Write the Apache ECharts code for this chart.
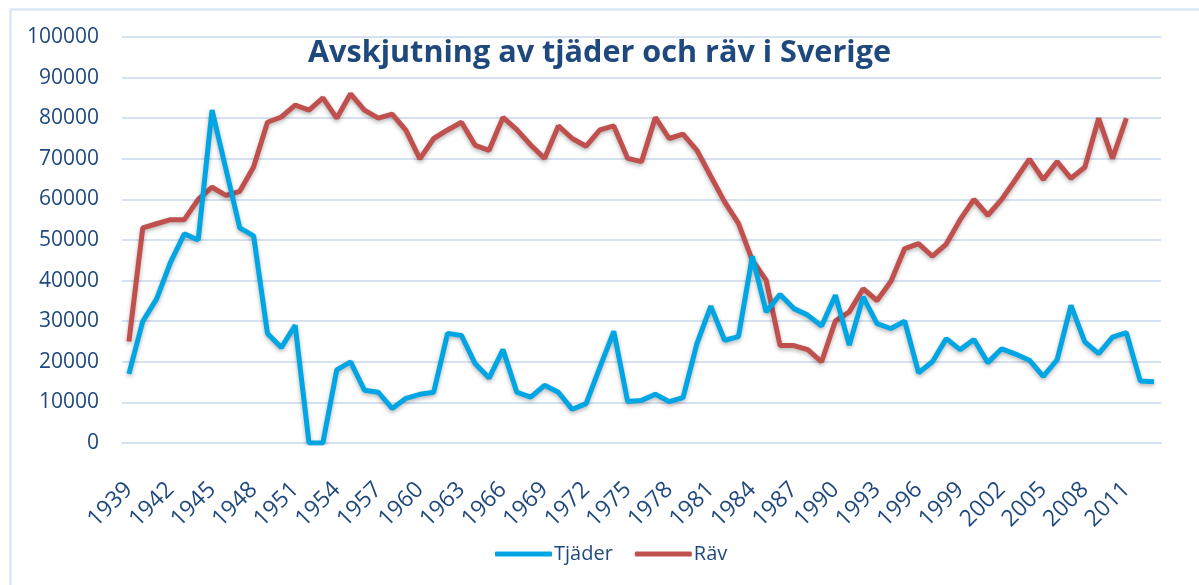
<!DOCTYPE html>
<html>
<head>
<meta charset="utf-8">
<script src="https://cdn.jsdelivr.net/npm/echarts@6/dist/echarts.min.js"></script>
<style>
    html, body { margin: 0; padding: 0; background: #fff; }
    #chart { width: 1199px; height: 585px; }
</style>
</head>
<body>
<div id="chart"></div>
<script>
// 1939 - 2013
const years = []
for (let y = 1939; y <= 2013; y++) years.push(String(y))

const tjader = [
    17000, 30000, 35500, 44500, 51500, 50000, 82000, 67500, 53000, 51000,
    27000, 23500, 29000, 0, 0, 18000, 20000, 13000, 12500, 8500,
    11000, 12000, 12500, 27000, 26500, 19500, 16000, 23000, 12500, 11300,
    14200, 12500, 8300, 9700, 18700, 27500, 10200, 10500, 12000, 10200,
    11200, 24500, 33700, 25300, 26200, 46000, 32300, 36600, 33100, 31500,
    28800, 36400, 24100, 36000, 29400, 28200, 30000, 17300, 20000, 25700,
    23000, 25500, 19800, 23200, 21900, 20400, 16400, 20500, 33900, 24900,
    22000, 26100, 27200, 15300, 15100
]

const rav = [
    25000, 53000, 54000, 55000, 55000, 60000, 63000, 61000, 62000, 68000,
    79000, 80300, 83200, 82000, 85000, 80000, 86000, 82000, 80000, 81000,
    77000, 70000, 75000, 77100, 79000, 73300, 72100, 80200, 77200, 73400,
    70100, 78100, 75000, 73100, 77100, 78100, 70100, 69300, 80200, 75000,
    76100, 72100, 65700, 59400, 54100, 45000, 40100, 24000, 24000, 23000,
    20000, 30100, 32300, 38000, 35100, 39800, 47900, 49100, 46000, 49000,
    55000, 60000, 56100, 60000, 64900, 69900, 64900, 69300, 65200, 67900,
    80000, 70100, 80000, null, null
]

const textColor = '#1F497D'
const lineColor = '#D6E1F2'
const font = 'Open Sans'

let chart = echarts.init(document.getElementById('chart'))
let option = {
    animation: false,
    title: {
        text: 'Avskjutning av tjäder och räv i Sverige',
        left: 'center',
        top: 33,
        textStyle: {
            color: textColor,
            fontFamily: font,
            fontWeight: 'bold',
            fontSize: 30.6
        }
    },
    legend: {
        left: 490,
        top: 539,
        icon: 'roundRect',
        itemWidth: 57,
        itemHeight: 5,
        itemGap: 22,
        textStyle: {
            color: textColor,
            fontFamily: font,
            fontSize: 20,
            padding: [0, 0, 0, -3]
        },
        data: ['Tjäder', 'Räv']
    },
    graphic: [{
        type: 'rect',
        left: 8,
        top: 7,
        shape: { width: 1300, height: 700 },
        style: { fill: 'none', stroke: lineColor, lineWidth: 2 },
        silent: true,
        z: -1
    }],
    grid: {
        left: 122,
        right: 38,
        top: 37,
        bottom: 142
    },
    xAxis: {
        type: 'category',
        data: years,
        boundaryGap: true,
        axisLine: {
            lineStyle: { color: lineColor, width: 2 }
        },
        axisTick: {
            interval: 0,
            length: 6,
            lineStyle: { color: lineColor, width: 1.5 }
        },
        axisLabel: {
            interval: 2,
            rotate: 45,
            margin: 43,
            color: textColor,
            fontFamily: font,
            fontSize: 23
        }
    },
    yAxis: {
        type: 'value',
        min: 0,
        max: 100000,
        interval: 10000,
        axisLine: { show: false },
        axisTick: { show: false },
        axisLabel: {
            margin: 23,
            color: textColor,
            fontFamily: font,
            fontSize: 21,
            formatter: (v) => String(v)
        },
        splitLine: {
            lineStyle: { color: lineColor, width: 2 }
        }
    },
    series: [
        {
            name: 'Tjäder',
            type: 'line',
            data: tjader,
            symbol: 'none',
            color: '#00A6E3',
            lineStyle: {
                width: 5,
                color: '#00A6E3',
                shadowColor: 'rgba(0,0,0,0.3)',
                shadowBlur: 4,
                shadowOffsetY: 2
            },
            z: 3
        },
        {
            name: 'Räv',
            type: 'line',
            data: rav,
            symbol: 'none',
            color: '#C0504D',
            lineStyle: {
                width: 5,
                color: '#C0504D',
                shadowColor: 'rgba(0,0,0,0.3)',
                shadowBlur: 4,
                shadowOffsetY: 2
            },
            z: 2
        }
    ]
}
chart.setOption(option)
window.addEventListener('resize', () => {
    chart.resize()
})
</script>
</body>
</html>
